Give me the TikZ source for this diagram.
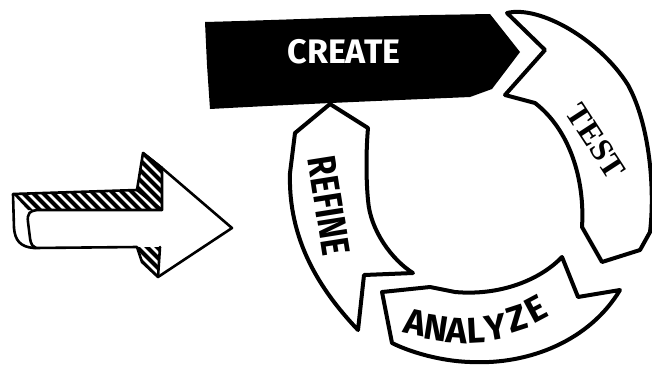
\documentclass[tikz,border=0pt]{standalone}
\usepackage{fontspec}
\newfontfamily\handfont{Fira Sans}
\newfontfamily\serffont{Liberation Serif}
\begin{document}
\begin{tikzpicture}[x=1pt,y=-1pt,
  band/.style={draw=black,line width=4pt,line join=round,fill=white},
  arrowline/.style={draw=black,line width=2.6pt,line join=round,line cap=round},
  hatchline/.style={line width=4pt,black},
  lettr/.style={font=\handfont\bfseries\fontsize{36}{36}\selectfont,inner sep=0pt}]
\useasboundingbox (0,0) rectangle (652,368);

% ---------- big sketched arrow on the left ----------
\begin{scope}
  \clip (13,194) -- (137,190) -- (143,153) -- (162,168) -- (162,210) -- (28,210) -- cycle;
  \foreach \i in {-200,-190,...,240} \draw[hatchline] (\i,140) -- ++(90,90);
\end{scope}
\begin{scope}
  \clip (137,247) -- (160,247) -- (158,277) -- (142,262) -- cycle;
  \foreach \i in {-200,-190,...,240} \draw[hatchline] (\i,200) -- ++(90,90);
\end{scope}
\draw[arrowline] (13,194) -- (137,190) -- (143,153) -- (162,168) -- (232,228) -- (158,277)
  -- (142,262) -- (137,247) -- (34,248) .. controls (20,247) and (15,240) .. (14,228) -- cycle;
\draw[arrowline] (143,153) -- (162,168);
\draw[arrowline] (162,168) -- (162,210) -- (40,210) .. controls (29,210) and (27,214) .. (28,222)
  -- (30,238) .. controls (31,245) and (33,247) .. (36,248);
\draw[arrowline] (160,247) -- (158,277);
\draw[arrowline] (137,190) -- (162,210);

% ---------- CREATE banner ----------
\fill[black] (205,22) .. controls (280,20) and (380,16) .. (430,15) -- (490,14) -- (520,52)
  -- (492,89) -- (470,97) .. controls (400,100) and (300,104) .. (210,109)
  -- (207,65) -- cycle;
\node[text=white,font=\handfont\bfseries\fontsize{34}{34}\selectfont] (create) at (344,52) {CREATE};

% ---------- TEST band ----------
\draw[band] (507,13) .. controls (540,5) and (600,40) .. (628,85)
  .. controls (650,125) and (655,190) .. (650,232) -- (640,250) -- (602,262) -- (582,227)
  .. controls (585,180) and (570,130) .. (535,103) -- (505,95) -- (545,50) -- cycle;
\node[rotate=-57,font=\serffont\bfseries\fontsize{32}{32}\selectfont,inner sep=0pt] (test) at (596,141) {TEST};

% ---------- ANALYZE band ----------
\draw[band] (382,292) -- (430,287) -- (455,292) .. controls (500,296) and (540,280) .. (562,257)
  -- (578,297) -- (620,290) .. controls (590,340) and (530,365) .. (470,362)
  .. controls (440,361) and (410,352) .. (392,343) -- cycle;
\node[lettr,rotate=-12] (an1) at (415,322) {A};
\node[lettr,rotate=-9] (an2) at (436,328) {N};
\node[lettr,rotate=-4] (an3) at (457,331) {A};
\node[lettr,rotate=3] (an4) at (476,331) {L};
\node[lettr,rotate=10] (an5) at (496,327) {Y};
\node[lettr,rotate=18] (an6) at (517,319) {Z};
\node[lettr,rotate=28] (an7) at (536,309) {E};

% ---------- REFINE band ----------
\draw[band] (330,104) -- (368,128) .. controls (366,150) and (366,180) .. (368,200)
  .. controls (370,230) and (392,260) .. (413,273) -- (364,275) -- (358,330)
  .. controls (320,290) and (288,240) .. (290,173) -- (295,133) -- cycle;
\node[rotate=-81,font=\handfont\bfseries\fontsize{40}{40}\selectfont,inner sep=0pt] (refine) at (329,206)
  {\scalebox{0.8}[1]{REFINE}};
\end{tikzpicture}
\end{document}
